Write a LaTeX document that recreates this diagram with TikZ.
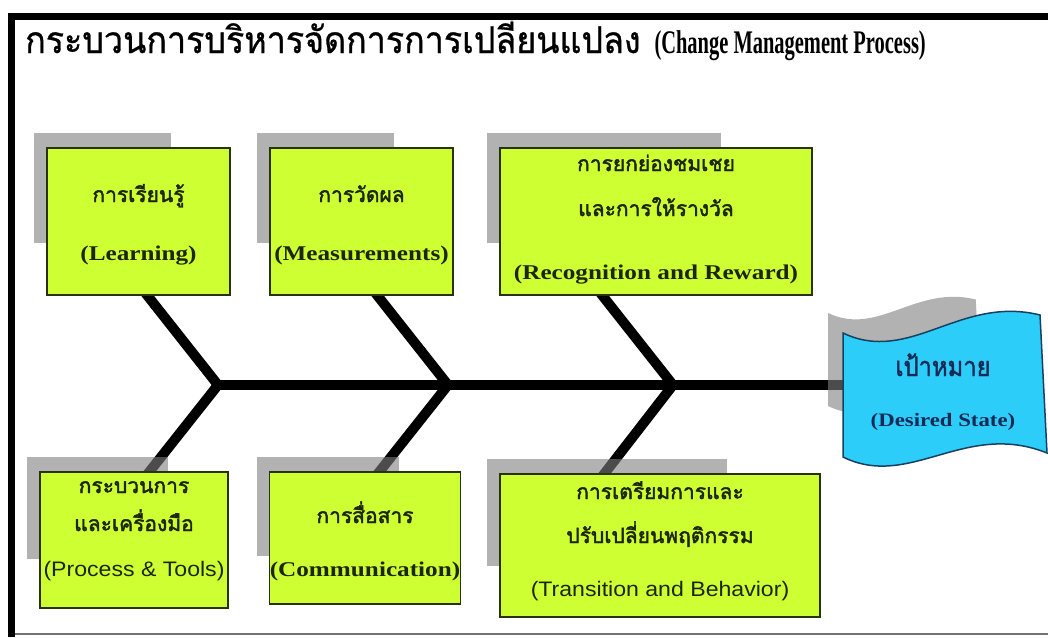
\documentclass[tikz,border=0pt]{standalone}
\usepackage{fontspec}
\setmainfont{Liberation Serif}
\newfontfamily\titlethai[Script=Thai,FakeStretch=0.92,FakeBold=0.8]{Loma}
\newfontfamily\goalthai[Script=Thai,FakeStretch=0.88,FakeBold=1.5]{Loma}
\newfontfamily\titleroman[FakeStretch=0.62]{Liberation Serif}
\newfontfamily\thaitext[Script=Thai,FakeBold=2]{Loma}
\newfontfamily\romantext[FakeStretch=1.2]{Liberation Serif}
\newfontfamily\sanstext[FakeStretch=1.1]{Liberation Sans}

\definecolor{leafgreen}{RGB}{206,255,51}
\definecolor{boxedge}{RGB}{40,50,15}
\definecolor{ink}{RGB}{28,38,5}
\definecolor{goalblue}{RGB}{45,205,250}
\definecolor{goaledge}{RGB}{25,65,95}
\definecolor{goalink}{RGB}{22,42,85}

\newcommand\entext[1]{{\romantext\bfseries #1}}
\newcommand\sanslabel[1]{{\sanstext\mdseries #1}}
% wave shaped flag, top left corner at (0,0)
\newcommand\flagpath{(0,0) .. controls (67,32) and (117,-38) .. (197,-18)
  -- (204,120) .. controls (122,87) and (67,157) .. (0,124) -- cycle}

\begin{document}
\begin{tikzpicture}[x=1pt,y=-1pt,
    box/.style={draw=boxedge,fill=leafgreen,line width=1.3pt,inner sep=0pt,
      align=center,text=ink,text depth=0pt,
      font=\thaitext\fontsize{21}{30}\selectfont},
    boxshade/.style={fill=black!50,fill opacity=0.6},
    bone/.style={line width=10pt,black}]
  \useasboundingbox (0,0) rectangle (1048,637);
  \fill[white] (0,0) rectangle (1048,637);

  % frame
  \fill[black] (8,12.5) rectangle (1048,20);
  \fill[black] (8,12.5) rectangle (15,637);
  \draw[black!55,line width=1.5pt] (15,634) -- (1048,634);

  \node[anchor=base west,inner sep=0pt] (title) at (25,53)
    {{\titlethai\fontsize{37}{40}\selectfont กระบวนการบริหารจัดการการเปลี่ยนแปลง}\hspace{14pt}%
     {\titleroman\bfseries\fontsize{33}{33}\selectfont (Change Management Process)}};

  % fish bones
  \coordinate (j1) at (218,385);
  \coordinate (j2) at (448,385);
  \coordinate (j3) at (673,385);
  \coordinate (t1) at (143,290);
  \coordinate (t2) at (373,290);
  \coordinate (t3) at (598,290);
  \coordinate (b1) at (146,476);
  \coordinate (b2) at (376,476);
  \coordinate (b3) at (601,478);
  \coordinate (gend) at (843,385);

  \draw[bone] (t1) -- (j1) -- (b1);
  \draw[bone] (t2) -- (j2) -- (b2);
  \draw[bone] (t3) -- (j3) -- (b3);
  \draw[bone] (j1) -- (gend);

  % shadows
  \foreach \x/\y/\w/\h in {34/133/137/110, 257/133/137/110, 487/133/234/110,
      27/457/141/102, 257/457/142/99, 487/459/240/107}
    \fill[boxshade] (\x,\y) rectangle ++(\w,\h);
  \begin{scope}[shift={(828,313)},scale=0.75]
    \fill[boxshade] \flagpath;
  \end{scope}

  % causes
  \node[box,minimum width=183pt,minimum height=147pt,text height=77pt] (learn) at (138.5,221.5)
    {การเรียนรู้\\[28pt]\entext{(Learning)}};
  \node[box,minimum width=183pt,minimum height=147pt,text height=77pt] (measure) at (361.5,221.5)
    {การวัดผล\\[28pt]\entext{(Measurements)}};
  \node[box,minimum width=312pt,minimum height=147pt,text height=115pt] (reward) at (656,221.5)
    {การยกย่องชมเชย\\[15pt]และการให้รางวัล\\[33pt]\entext{(Recognition and Reward)}};
  \node[box,minimum width=188pt,minimum height=136pt,text height=72pt] (tools) at (134,540)
    {กระบวนการ\\[8pt]และเครื่องมือ\\[15pt]\sanslabel{(Process \& Tools)}};
  \node[box,minimum width=190pt,minimum height=132pt,text height=76pt] (comm) at (365,538)
    {การสื่อสาร\\[23pt]\entext{(Communication)}};
  \node[box,minimum width=320pt,minimum height=143pt,text height=101pt] (behave) at (660,545.5)
    {การเตรียมการและ\\[14pt]ปรับเปลี่ยนพฤติกรรม\\[23pt]\sanslabel{(Transition and Behavior)}};

  % goal
  \begin{scope}[shift={(843,333)}]
    \filldraw[fill=goalblue,draw=goaledge,line width=1.5pt] \flagpath;
  \end{scope}
  \node[align=center,text=goalink,inner sep=0pt,text height=62pt,text depth=0pt,
      font=\fontsize{19}{30}\selectfont] (goal) at (943,395)
    {{\goalthai\fontsize{27}{30}\selectfont เป้าหมาย}\\[20pt]%
     \entext{(Desired State)}};
\end{tikzpicture}
\end{document}
